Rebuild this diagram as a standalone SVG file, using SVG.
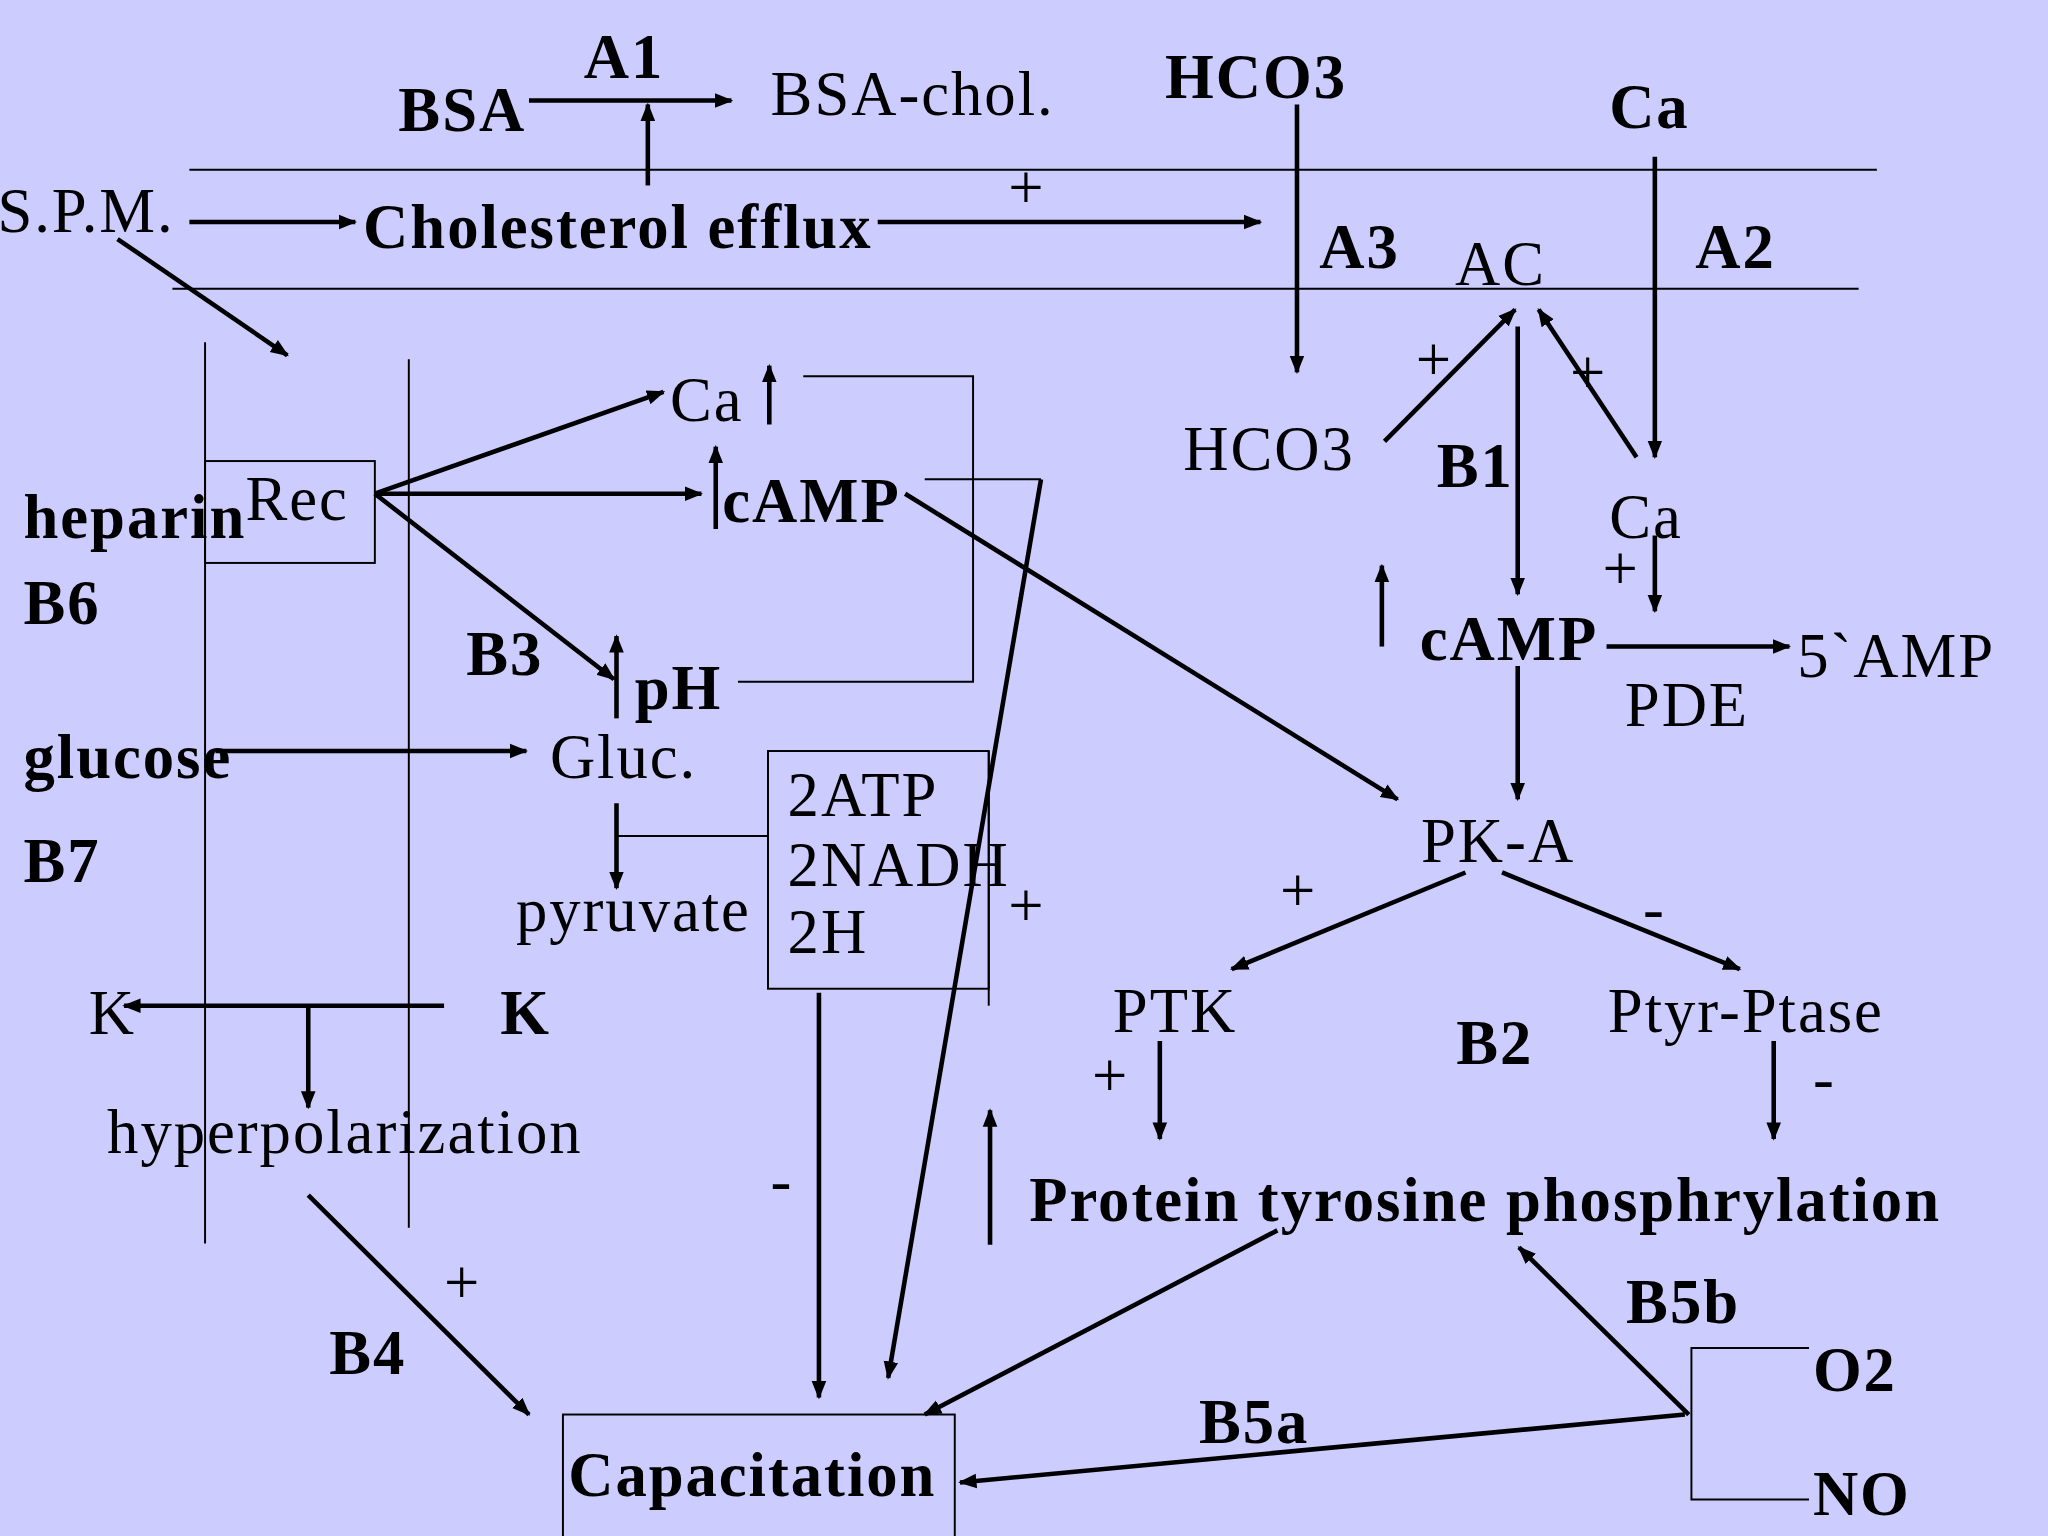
<svg xmlns="http://www.w3.org/2000/svg" width="2048" height="1536" viewBox="0 0 2048 1536">
<defs>
<marker id="ah" viewBox="0 0 10 10" refX="9" refY="5" markerWidth="4" markerHeight="4" orient="auto" markerUnits="strokeWidth"><path d="M0,1 L10,5 L0,9 z" fill="#000"/></marker>
<style>
text{font-family:"Liberation Serif","Times New Roman",serif;font-size:48px;letter-spacing:1.5px;fill:#000}
.b{font-weight:bold}
.a{stroke:#000;stroke-width:3.5;fill:none;marker-end:url(#ah)}
.l{stroke:#000;stroke-width:1.5;fill:none}
</style>
</defs>
<rect width="2048" height="1536" fill="#ccccff"/>
<g transform="scale(1.30612)">
<g id="connectors">
<line class="l" x1="145" y1="130" x2="1437" y2="130"/>
<line class="l" x1="132" y1="221" x2="1423" y2="221"/>
<line class="l" x1="157" y1="262" x2="157" y2="952"/>
<line class="l" x1="313" y1="275" x2="313" y2="940"/>
<line class="a" x1="405" y1="77" x2="560" y2="77"/>
<line class="a" x1="496" y1="142" x2="496" y2="80"/>
<line class="a" x1="993" y1="80" x2="993" y2="285"/>
<line class="a" x1="1267" y1="120" x2="1267" y2="350"/>
<line class="a" x1="145" y1="170" x2="272" y2="170"/>
<line class="a" x1="672" y1="170" x2="965" y2="170"/>
<line class="a" x1="90" y1="183" x2="220" y2="272"/>
<line class="a" x1="287" y1="378" x2="508" y2="300"/>
<line class="a" x1="287" y1="378" x2="537" y2="378"/>
<line class="a" x1="287" y1="378" x2="470" y2="520"/>
<line class="a" x1="589" y1="325" x2="589" y2="280"/>
<polyline class="l" points="615,288 745,288 745,522 565,522"/>
<polyline class="l" points="708,367 797,367"/>
<line class="a" x1="797" y1="367" x2="680" y2="1055"/>
<line class="a" x1="548" y1="405" x2="548" y2="342"/>
<line class="a" x1="693" y1="378" x2="1070" y2="612"/>
<line class="a" x1="472" y1="550" x2="472" y2="487"/>
<line class="a" x1="165" y1="575" x2="403" y2="575"/>
<line class="l" x1="588" y1="640" x2="472" y2="640"/>
<line class="a" x1="472" y1="615" x2="472" y2="680"/>
<line class="l" x1="757" y1="575" x2="757" y2="770"/>
<line class="a" x1="627" y1="760" x2="627" y2="1070"/>
<line class="a" x1="340" y1="770" x2="95" y2="770"/>
<line class="a" x1="236" y1="770" x2="236" y2="848"/>
<line class="a" x1="236" y1="915" x2="405" y2="1083"/>
<line class="a" x1="758" y1="953" x2="758" y2="850"/>
<line class="a" x1="978" y1="942" x2="708" y2="1083"/>
<line class="a" x1="1060" y1="338" x2="1160" y2="237"/>
<line class="a" x1="1253" y1="350" x2="1178" y2="237"/>
<line class="a" x1="1162" y1="250" x2="1162" y2="455"/>
<line class="a" x1="1267" y1="410" x2="1267" y2="468"/>
<line class="a" x1="1058" y1="495" x2="1058" y2="433"/>
<line class="a" x1="1230" y1="495" x2="1370" y2="495"/>
<line class="a" x1="1162" y1="510" x2="1162" y2="612"/>
<line class="a" x1="1122" y1="668" x2="943" y2="742"/>
<line class="a" x1="1150" y1="668" x2="1332" y2="742"/>
<line class="a" x1="888" y1="797" x2="888" y2="872"/>
<line class="a" x1="1358" y1="797" x2="1358" y2="872"/>
<line class="a" x1="1293" y1="1083" x2="1163" y2="955"/>
<polyline class="l" points="1385,1032 1295,1032 1295,1148 1385,1148"/>
<line class="a" x1="1290" y1="1083" x2="735" y2="1135"/>
</g>
<g id="labels">
<text class="b" x="305" y="100">BSA</text>
<text class="b" x="447" y="60">A1</text>
<text x="590" y="88">BSA-chol.</text>
<text class="b" x="892" y="75">HCO3</text>
<text class="b" x="1232" y="98">Ca</text>
<text x="-2" y="178">S.P.M.</text>
<text class="b" x="278" y="190">Cholesterol efflux</text>
<text x="772" y="160">+</text>
<text class="b" x="1010" y="205">A3</text>
<text x="1114" y="218">AC</text>
<text class="b" x="1298" y="205">A2</text>
<text class="b" x="18" y="412">heparin</text>
<text class="b" x="18" y="478">B6</text>
<text x="513" y="322">Ca</text>
<text class="b" x="553" y="400">cAMP</text>
<text class="b" x="357" y="517">B3</text>
<text class="b" x="486" y="543">pH</text>
<text class="b" x="18" y="596">glucose</text>
<text x="421" y="596">Gluc.</text>
<text class="b" x="18" y="675">B7</text>
<text x="603" y="625">2ATP</text>
<text x="603" y="678">2NADH</text>
<text x="603" y="730">2H</text>
<text x="395" y="713">pyruvate</text>
<text x="772" y="710">+</text>
<text x="68" y="792">K</text>
<text class="b" x="383" y="792">K</text>
<text x="82" y="883">hyperpolarization</text>
<text x="340" y="998">+</text>
<text class="b" x="252" y="1052">B4</text>
<text x="590" y="920">-</text>
<text class="b" x="788" y="935">Protein tyrosine phosphrylation</text>
<text x="906" y="360">HCO3</text>
<text x="1084" y="292">+</text>
<text x="1202" y="302">+</text>
<text class="b" x="1100" y="373">B1</text>
<text x="1232" y="412">Ca</text>
<text x="1227" y="452">+</text>
<text class="b" x="1087" y="505">cAMP</text>
<text x="1376" y="518">5`AMP</text>
<text x="1244" y="556">PDE</text>
<text x="1088" y="660">PK-A</text>
<text x="980" y="698">+</text>
<text x="1258" y="712">-</text>
<text x="852" y="790">PTK</text>
<text class="b" x="1115" y="815">B2</text>
<text x="1231" y="790">Ptyr-Ptase</text>
<text x="836" y="840">+</text>
<text x="1388" y="842">-</text>
<text class="b" x="1245" y="1013">B5b</text>
<text class="b" x="1388" y="1065">O2</text>
<text class="b" x="1388" y="1160">NO</text>
<text class="b" x="918" y="1105">B5a</text>
</g>
<g id="rec"><rect class="l" x="157" y="353" width="130" height="78"/><text x="188" y="398">Rec</text></g>
<g id="box"><rect class="l" x="588" y="575" width="169" height="182"/></g>
<g id="capacitation"><rect class="l" x="431" y="1083" width="300" height="100"/><text class="b" x="435" y="1145">Capacitation</text></g>
</g>
</svg>
